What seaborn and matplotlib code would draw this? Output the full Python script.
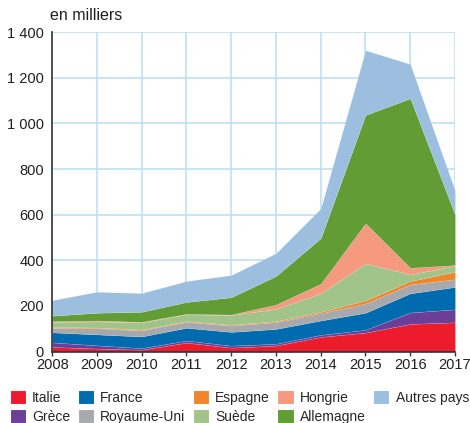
import matplotlib
matplotlib.use('Agg')
import matplotlib.pyplot as plt
import seaborn as sns
from matplotlib.ticker import FuncFormatter

# en milliers
years = [2008, 2009, 2010, 2011, 2012, 2013, 2014, 2015, 2016, 2017]
italie = [20, 13, 8, 39, 17, 26, 64, 83, 121, 128]
grece = [20, 14, 7, 9, 9, 8, 9, 12, 50, 57]
france = [44, 48, 51, 56, 60, 65, 63, 75, 84, 98]
royaume_uni = [20, 27, 27, 26, 28, 30, 32, 40, 39, 34]
espagne = [4, 3, 3, 3, 3, 4, 6, 14, 15, 33]
suede = [22, 27, 32, 30, 43, 54, 81, 162, 29, 26]
hongrie = [3, 4, 2, 2, 2, 19, 42, 176, 29, 3]
allemagne = [24, 34, 44, 52, 76, 125, 200, 475, 743, 222]
autres = [68, 92, 82, 92, 97, 100, 130, 284, 150, 105]

labels = ["Italie", "Grèce", "France", "Royaume-Uni", "Espagne",
          "Suède", "Hongrie", "Allemagne", "Autres pays"]
colors = ["#EC1C2D", "#6B3F98", "#006BAE", "#A7A9AC", "#F0862B",
          "#A1C48A", "#F5997F", "#629C35", "#9CBFDF"]

sns.set_theme(style="white")
plt.rcParams['font.family'] = ['Liberation Sans', 'DejaVu Sans']

fig = plt.figure(figsize=(4.7, 4.23), dpi=100)
ax = fig.add_axes([0.111, 0.169, 0.857, 0.755])

ax.stackplot(years, italie, grece, france, royaume_uni, espagne, suede,
             hongrie, allemagne, autres, labels=labels, colors=colors,
             linewidth=0.3, edgecolor="#FFFFFF40", zorder=2)

ax.set_xlim(2008, 2017)
ax.set_ylim(0, 1400)
ax.set_xticks(years)
ax.set_yticks(range(0, 1401, 200))
ax.yaxis.set_major_formatter(FuncFormatter(lambda v, p: f"{int(v):,}".replace(",", " ")))

ax.grid(True, color="#BEE0F4", linewidth=1.2, zorder=0)
ax.set_axisbelow(True)
for s in ["top", "right"]:
    ax.spines[s].set_visible(False)
ax.spines["left"].set_color("#333333")
ax.spines["bottom"].set_color("#333333")
ax.spines["left"].set_linewidth(1.2)
ax.spines["bottom"].set_linewidth(1.2)
ax.tick_params(axis="x", bottom=True, length=3, width=1, color="#333333",
               labelsize=10.5, labelcolor="#231F20", pad=2)
ax.tick_params(axis="y", left=False, length=0, labelsize=10.5, labelcolor="#231F20", pad=6)

fig.text(0.107, 0.945, "en milliers", fontsize=11.5, color="#231F20", ha="left", va="bottom")

handles, labs = ax.get_legend_handles_labels()
fig.legend(handles, labs, loc="lower left", bbox_to_anchor=(0.005, -0.022), ncol=5,
           frameon=False, fontsize=10, handlelength=1.1, handleheight=1.1,
           handletextpad=0.45, columnspacing=0.6, labelspacing=0.3,
           borderaxespad=0.2)

fig.savefig("out.png", dpi=100)
